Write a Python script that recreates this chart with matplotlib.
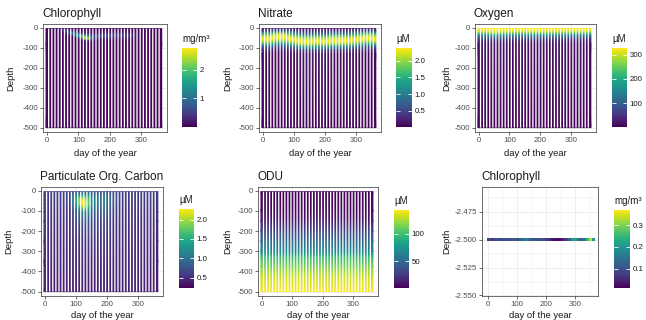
import numpy as np
import matplotlib
matplotlib.use('Agg')
import matplotlib.pyplot as plt
from matplotlib.cm import ScalarMappable
from matplotlib.colors import Normalize
from matplotlib.ticker import FormatStrFormatter

plt.rcParams['font.family'] = ['Liberation Sans', 'DejaVu Sans']
plt.rcParams['axes.unicode_minus'] = False

# ---------------- data ----------------
days = [1, 11, 21, 31, 41, 51, 61, 71, 81, 91, 101, 111, 121, 131, 141, 151, 161, 171, 181,
        191, 201, 211, 221, 231, 241, 251, 261, 271, 281, 291, 301, 311, 321, 331, 341, 351, 361]

# Chlorophyll (mg/m3), one profile per day
chl_depth = [-5, -15, -25, -35, -45, -55, -65, -75, -500]
chl_vals = [
    [.05, .05, .05, .05, .05, .05, .05, .05, .05],
    [.05, .05, .05, .05, .05, .05, .05, .05, .05],
    [.05, .05, .05, .05, .05, .05, .05, .05, .05],
    [.06, .05, .05, .05, .05, .05, .05, .05, .05],
    [.12, .15, .06, .05, .05, .05, .05, .05, .05],
    [.20, .45, .15, .05, .05, .05, .05, .05, .05],
    [.15, .55, .45, .10, .05, .05, .05, .05, .05],
    [.10, .35, .80, .30, .06, .05, .05, .05, .05],
    [.08, .20, .90, .70, .12, .05, .05, .05, .05],
    [.06, .12, .55, 1.3, .40, .06, .05, .05, .05],
    [.05, .08, .30, 1.5, 1.2, .20, .05, .05, .05],
    [.05, .06, .20, 1.0, 2.3, .80, .10, .05, .05],
    [.05, .05, .12, .60, 2.2, 2.6, .30, .05, .05],
    [.05, .05, .10, .40, 1.5, 2.4, .50, .06, .05],
    [.05, .05, .10, .30, .90, 1.0, .30, .05, .05],
    [.05, .05, .10, .35, .70, .50, .15, .05, .05],
    [.05, .05, .10, .40, .65, .35, .10, .05, .05],
    [.05, .05, .10, .45, .60, .30, .08, .05, .05],
    [.05, .05, .12, .50, .60, .28, .08, .05, .05],
    [.05, .05, .12, .55, .55, .25, .08, .05, .05],
    [.05, .05, .12, .55, .50, .22, .08, .05, .05],
    [.05, .05, .12, .50, .50, .22, .08, .05, .05],
    [.05, .05, .12, .50, .45, .20, .07, .05, .05],
    [.05, .05, .12, .50, .45, .20, .07, .05, .05],
    [.05, .05, .12, .45, .40, .18, .07, .05, .05],
    [.05, .05, .10, .45, .40, .18, .06, .05, .05],
    [.05, .05, .10, .40, .35, .15, .06, .05, .05],
    [.05, .05, .10, .35, .30, .12, .05, .05, .05],
    [.05, .05, .08, .25, .22, .10, .05, .05, .05],
    [.05, .05, .06, .12, .12, .08, .05, .05, .05],
    [.05, .05, .05, .06, .06, .05, .05, .05, .05],
    [.05, .05, .05, .05, .05, .05, .05, .05, .05],
    [.05, .05, .05, .05, .05, .05, .05, .05, .05],
    [.05, .05, .05, .05, .05, .05, .05, .05, .05],
    [.05, .05, .05, .05, .05, .05, .05, .05, .05],
    [.05, .05, .05, .05, .05, .05, .05, .05, .05],
    [.05, .05, .05, .05, .05, .05, .05, .05, .05],
]

# Nitrate (uM)
no3_depth = [-5, -20, -35, -50, -65, -80, -95, -110, -130, -500]
no3_vals = [
    [.15, .60, 1.7, 2.3, 2.3, 1.7, .80, .30, .08, .05],
    [.15, .60, 1.7, 2.3, 2.3, 1.7, .80, .30, .08, .05],
    [.15, .60, 1.7, 2.3, 2.3, 1.7, .80, .30, .08, .05],
    [.18, .75, 1.9, 2.35, 2.2, 1.5, .70, .28, .07, .05],
    [.20, .90, 2.1, 2.35, 2.1, 1.3, .60, .25, .06, .05],
    [.22, 1.0, 2.2, 2.35, 2.0, 1.2, .55, .22, .06, .05],
    [.22, 1.0, 2.2, 2.35, 2.0, 1.2, .55, .22, .06, .05],
    [.20, .90, 2.1, 2.35, 2.1, 1.3, .60, .25, .06, .05],
    [.18, .75, 1.9, 2.35, 2.2, 1.5, .70, .28, .07, .05],
    [.15, .60, 1.7, 2.3, 2.3, 1.7, .80, .30, .08, .05],
    [.12, .50, 1.5, 2.2, 2.35, 1.9, 1.0, .40, .10, .05],
    [.10, .40, 1.2, 2.1, 2.35, 2.1, 1.2, .50, .12, .05],
    [.10, .35, 1.0, 2.0, 2.35, 2.2, 1.4, .60, .15, .05],
    [.10, .30, .90, 1.9, 2.3, 2.25, 1.5, .65, .16, .05],
    [.10, .30, .90, 1.9, 2.3, 2.25, 1.5, .65, .16, .05],
    [.10, .30, .90, 1.9, 2.3, 2.25, 1.5, .65, .16, .05],
    [.10, .30, .90, 1.9, 2.3, 2.25, 1.5, .65, .16, .05],
    [.10, .35, 1.0, 2.0, 2.35, 2.2, 1.4, .60, .15, .05],
    [.10, .35, 1.0, 2.0, 2.35, 2.2, 1.4, .60, .15, .05],
    [.10, .30, .90, 1.9, 2.3, 2.25, 1.5, .65, .16, .05],
    [.10, .30, .90, 1.9, 2.3, 2.25, 1.5, .65, .16, .05],
    [.10, .35, 1.0, 2.0, 2.35, 2.2, 1.4, .60, .15, .05],
    [.10, .40, 1.2, 2.1, 2.35, 2.1, 1.2, .50, .12, .05],
    [.10, .40, 1.2, 2.1, 2.35, 2.1, 1.2, .50, .12, .05],
    [.10, .40, 1.2, 2.1, 2.35, 2.1, 1.2, .50, .12, .05],
    [.10, .40, 1.2, 2.1, 2.35, 2.1, 1.2, .50, .12, .05],
    [.10, .40, 1.2, 2.1, 2.35, 2.1, 1.2, .50, .12, .05],
    [.10, .40, 1.2, 2.1, 2.35, 2.1, 1.2, .50, .12, .05],
    [.10, .40, 1.2, 2.1, 2.35, 2.1, 1.2, .50, .12, .05],
    [.12, .50, 1.5, 2.2, 2.35, 1.9, 1.0, .40, .10, .05],
    [.12, .50, 1.5, 2.2, 2.35, 1.9, 1.0, .40, .10, .05],
    [.15, .60, 1.7, 2.3, 2.3, 1.7, .80, .30, .08, .05],
    [.15, .60, 1.7, 2.3, 2.3, 1.7, .80, .30, .08, .05],
    [.18, .75, 1.9, 2.35, 2.2, 1.5, .70, .28, .07, .05],
    [.18, .75, 1.9, 2.35, 2.2, 1.5, .70, .28, .07, .05],
    [.18, .75, 1.9, 2.35, 2.2, 1.5, .70, .28, .07, .05],
    [.15, .60, 1.7, 2.3, 2.3, 1.7, .80, .30, .08, .05],
]

# Oxygen (uM)
o2_depth = [-5, -15, -25, -35, -45, -60, -80, -500]
o2_vals = [
    [325, 318, 280, 185, 115, 50, 15, 6],
    [325, 318, 280, 185, 115, 50, 15, 6],
    [325, 318, 280, 185, 115, 50, 15, 6],
    [325, 318, 285, 195, 120, 55, 16, 6],
    [325, 320, 295, 210, 130, 60, 18, 6],
    [325, 322, 300, 220, 140, 65, 20, 6],
    [325, 322, 300, 220, 140, 65, 20, 6],
    [325, 320, 295, 210, 130, 60, 18, 6],
    [325, 318, 285, 195, 120, 55, 16, 6],
    [325, 318, 280, 185, 115, 50, 15, 6],
    [325, 318, 280, 185, 115, 50, 15, 6],
    [325, 318, 280, 185, 115, 50, 15, 6],
    [325, 318, 280, 185, 115, 50, 15, 6],
    [325, 318, 280, 185, 115, 50, 15, 6],
    [325, 318, 280, 185, 115, 50, 15, 6],
    [325, 318, 280, 185, 115, 50, 15, 6],
    [325, 318, 280, 185, 115, 50, 15, 6],
    [325, 318, 280, 185, 115, 50, 15, 6],
    [325, 318, 280, 185, 115, 50, 15, 6],
    [325, 318, 280, 185, 115, 50, 15, 6],
    [325, 318, 280, 185, 115, 50, 15, 6],
    [325, 318, 280, 185, 115, 50, 15, 6],
    [325, 318, 280, 185, 115, 50, 15, 6],
    [325, 318, 280, 185, 115, 50, 15, 6],
    [325, 318, 280, 185, 115, 50, 15, 6],
    [325, 318, 280, 185, 115, 50, 15, 6],
    [325, 318, 280, 185, 115, 50, 15, 6],
    [325, 318, 280, 185, 115, 50, 15, 6],
    [325, 318, 280, 185, 115, 50, 15, 6],
    [325, 318, 280, 185, 115, 50, 15, 6],
    [328, 320, 270, 170, 105, 45, 14, 6],
    [328, 320, 270, 170, 105, 45, 14, 6],
    [328, 320, 270, 170, 105, 45, 14, 6],
    [328, 320, 270, 170, 105, 45, 14, 6],
    [328, 320, 270, 170, 105, 45, 14, 6],
    [328, 320, 270, 170, 105, 45, 14, 6],
    [328, 320, 270, 170, 105, 45, 14, 6],
]

# Particulate organic carbon (uM)
poc_depth = [-5, -25, -45, -65, -85, -105, -150, -250, -350, -500]
poc_vals = [
    [.60, .60, .60, .58, .56, .54, .52, .47, .44, .42],
    [.60, .60, .60, .58, .56, .54, .52, .47, .44, .42],
    [.60, .60, .60, .58, .56, .54, .52, .47, .44, .42],
    [.60, .60, .60, .58, .56, .54, .52, .47, .44, .42],
    [.60, .60, .60, .58, .56, .54, .52, .47, .44, .42],
    [.60, .61, .61, .58, .56, .54, .52, .47, .44, .42],
    [.61, .63, .63, .60, .57, .54, .52, .47, .44, .42],
    [.61, .66, .66, .62, .58, .55, .52, .47, .44, .42],
    [.62, .72, .72, .66, .60, .56, .53, .47, .44, .42],
    [.64, .95, 1.05, .95, .78, .66, .58, .48, .44, .42],
    [.68, 1.2, 1.45, 1.35, 1.05, .80, .63, .50, .44, .42],
    [.72, 1.4, 1.9, 1.9, 1.45, .95, .70, .52, .45, .42],
    [.74, 1.5, 2.2, 2.27, 1.85, 1.15, .75, .54, .45, .42],
    [.72, 1.4, 2.1, 2.27, 1.95, 1.25, .78, .55, .46, .42],
    [.70, 1.25, 1.7, 1.8, 1.5, 1.05, .74, .55, .46, .42],
    [.66, 1.1, 1.35, 1.3, 1.15, .92, .70, .55, .46, .42],
    [.65, 1.0, 1.15, 1.05, .95, .82, .66, .53, .45, .42],
    [.65, 1.0, 1.1, 1.0, .92, .80, .66, .53, .45, .42],
    [.65, 1.0, 1.1, 1.0, .92, .80, .66, .53, .45, .42],
    [.65, 1.0, 1.1, 1.0, .92, .80, .66, .53, .45, .42],
    [.65, 1.0, 1.1, 1.0, .92, .80, .66, .53, .45, .42],
    [.63, .90, .95, .88, .80, .72, .62, .51, .45, .42],
    [.62, .80, .80, .74, .68, .62, .57, .49, .44, .42],
    [.61, .70, .70, .65, .60, .57, .54, .48, .44, .42],
    [.60, .64, .64, .60, .57, .55, .53, .47, .44, .42],
    [.60, .60, .60, .58, .56, .54, .52, .47, .44, .42],
    [.60, .60, .60, .58, .56, .54, .52, .47, .44, .42],
    [.60, .60, .60, .58, .56, .54, .52, .47, .44, .42],
    [.60, .60, .60, .58, .56, .54, .52, .47, .44, .42],
    [.60, .60, .60, .58, .56, .54, .52, .47, .44, .42],
    [.60, .60, .60, .58, .56, .54, .52, .47, .44, .42],
    [.60, .60, .60, .58, .56, .54, .52, .47, .44, .42],
    [.60, .60, .60, .58, .56, .54, .52, .47, .44, .42],
    [.60, .60, .60, .58, .56, .54, .52, .47, .44, .42],
    [.60, .60, .60, .58, .56, .54, .52, .47, .44, .42],
    [.60, .60, .60, .58, .56, .54, .52, .47, .44, .42],
    [.60, .60, .60, .58, .56, .54, .52, .47, .44, .42],
]

# ODU (uM): same profile every day
odu_depth = [-5, -100, -150, -200, -250, -300, -315, -330, -380, -420, -500]
odu_profile = [3, 5, 12, 30, 50, 68, 80, 98, 115, 130, 143]

# Surface chlorophyll at -2.5 m (mg/m3)
chl_surf_depth = -2.5
chl_surf = [.09, .08, .09, .10, .09, .10, .09, .10, .10, .11, .10, .12, .14, .17, .13, .11,
            .10, .10, .10, .09, .08, .06, .03, .02, .02, .03, .05, .08, .12, .20, .22, .14,
            .12, .15, .25, .33, .20]

panels = [
    dict(title='Chlorophyll', unit='mg/m³', depth=chl_depth, vals=chl_vals,
         vmin=0.0, vmax=2.76, ticks=[1, 2], labels=['1', '2']),
    dict(title='Nitrate', unit='µM', depth=no3_depth, vals=no3_vals,
         vmin=0.02, vmax=2.38, ticks=[0.5, 1.0, 1.5, 2.0], labels=['0.5', '1.0', '1.5', '2.0']),
    dict(title='Oxygen', unit='µM', depth=o2_depth, vals=o2_vals,
         vmin=1, vmax=328, ticks=[100, 200, 300], labels=['100', '200', '300']),
    dict(title='Particulate Org. Carbon', unit='µM', depth=poc_depth, vals=poc_vals,
         vmin=0.24, vmax=2.27, ticks=[0.5, 1.0, 1.5, 2.0], labels=['0.5', '1.0', '1.5', '2.0']),
    dict(title='ODU', unit='µM', depth=odu_depth, vals=[odu_profile] * len(days),
         vmin=2, vmax=143, ticks=[50, 100], labels=['50', '100']),
]

# ---------------- layout (pixels) ----------------
W, H = 646, 320
fig = plt.figure(figsize=(W / 100, H / 100), dpi=100)


def rect(l, t, r, b):
    return [l / W, 1 - b / H, (r - l) / W, (b - t) / H]


ax_px = [(43, 24, 167, 132), (259, 24, 381, 132), (475, 24, 596, 132),
         (41, 187, 163, 296), (258, 187, 378, 296), (482, 187, 598, 296)]
cb_px = [(182, 48, 197, 127), (396, 48, 412, 127), (612, 48, 627, 127),
         (179, 209, 194, 288), (394, 210, 409, 288), (614, 210, 630, 288)]
ylab_x = [11, 228, 447, 9, 228, 447]
xlab_dy = [22, 22, 22, 19, 19, 19]

TXT = '#1a1a1a'
TICK = '#4d4d4d'
GRID = '#ebebeb'
cmap = 'viridis'


def style_axes(ax):
    for s in ax.spines.values():
        s.set_color('#333333')
        s.set_linewidth(0.5)
        s.set_zorder(5)
    ax.tick_params(which='major', length=2, width=0.5, color='#333333',
                   labelsize=5.7, labelcolor=TICK, pad=1.5)
    ax.tick_params(which='minor', length=0)
    ax.grid(which='major', color=GRID, lw=0.6, zorder=0)
    ax.grid(which='minor', color=GRID, lw=0.3, zorder=0)
    ax.set_axisbelow(True)
    ax.set_xticks([0, 100, 200, 300])
    ax.set_xticks([50, 150, 250, 350], minor=True)


def add_labels(i, title):
    l, t, r, b = ax_px[i]
    fig.text((l - 1) / W, 1 - (t - 10) / H, title, fontsize=8.5, color=TXT,
             ha='left', va='center')
    fig.text(((l + r) / 2) / W, 1 - (b + xlab_dy[i]) / H, 'day of the year', fontsize=6.8,
             color=TXT, ha='center', va='center')
    fig.text(ylab_x[i] / W, 1 - ((t + b) / 2) / H, 'Depth', fontsize=6.8, color=TXT,
             ha='center', va='center', rotation=90)


def add_colorbar(i, unit, vmin, vmax, ticks, labels):
    l, t, r, b = cb_px[i]
    cax = fig.add_axes(rect(l, t, r, b))
    sm = ScalarMappable(norm=Normalize(vmin, vmax), cmap=cmap)
    cb = fig.colorbar(sm, cax=cax, ticks=ticks)
    cb.set_ticklabels(labels)
    cb.outline.set_visible(False)
    cax.tick_params(which='major', direction='in', length=3, width=0.6, color='white',
                    labelsize=5.7, labelcolor=TXT, pad=2, left=True, right=True)
    cax.tick_params(which='minor', length=0)
    fig.text(l / W, 1 - (t - 9) / H, unit, fontsize=7, color=TXT, ha='left', va='center')


half = 3.25      # half width of a sampled stripe (days)
step = 10        # sampling interval (days)
for i, p in enumerate(panels):
    ax = fig.add_axes(rect(*ax_px[i]))
    style_axes(ax)
    dep = np.asarray(p['depth'], float)
    n = len(dep)
    nd = len(days)
    for k, (d, prof) in enumerate(zip(days, p['vals'])):
        x0 = d - half if k == 0 else d - step / 2
        x1 = d + half if k == nd - 1 else d + step / 2
        X = np.column_stack([np.full(n, x0), np.full(n, x1)])
        Y = np.column_stack([dep, dep])
        C = np.column_stack([prof, prof]).astype(float)
        ax.pcolormesh(X, Y, C, shading='gouraud', cmap=cmap,
                      vmin=p['vmin'], vmax=p['vmax'], zorder=2)
    # white gaps between sampled stripes
    gaps = [d + step / 2 for d in days[:-1]]
    vl = ax.vlines(gaps, dep.min(), dep.max(), colors='white', lw=0.95, zorder=3,
                   antialiased=True)
    vl.set_snap(False)
    ax.set_xlim(-12, 381)
    ax.set_ylim(-522, 18)
    ax.set_yticks([0, -100, -200, -300, -400, -500])
    ax.set_yticks([-50, -150, -250, -350, -450], minor=True)
    add_labels(i, p['title'])
    add_colorbar(i, p['unit'], p['vmin'], p['vmax'], p['ticks'], p['labels'])

# panel 6: surface chlorophyll line
ax = fig.add_axes(rect(*ax_px[5]))
style_axes(ax)
xe = np.r_[np.asarray(days, float) - 5, days[-1] + 5]
ye = np.array([chl_surf_depth - 0.0011, chl_surf_depth + 0.0011])
ax.pcolormesh(xe, ye, np.asarray(chl_surf)[None, :], cmap=cmap, vmin=0.01, vmax=0.37,
              shading='flat', zorder=2)
ax.set_xlim(-21.6, 378)
ax.set_ylim(-2.5505, -2.4527)
ax.set_yticks([-2.475, -2.5, -2.525, -2.55])
ax.set_yticks([-2.4625, -2.4875, -2.5125, -2.5375], minor=True)
ax.yaxis.set_major_formatter(FormatStrFormatter('%.3f'))
add_labels(5, 'Chlorophyll')
add_colorbar(5, 'mg/m³', 0.01, 0.37, [0.1, 0.2, 0.3], ['0.1', '0.2', '0.3'])

fig.savefig('out.png', dpi=100)
